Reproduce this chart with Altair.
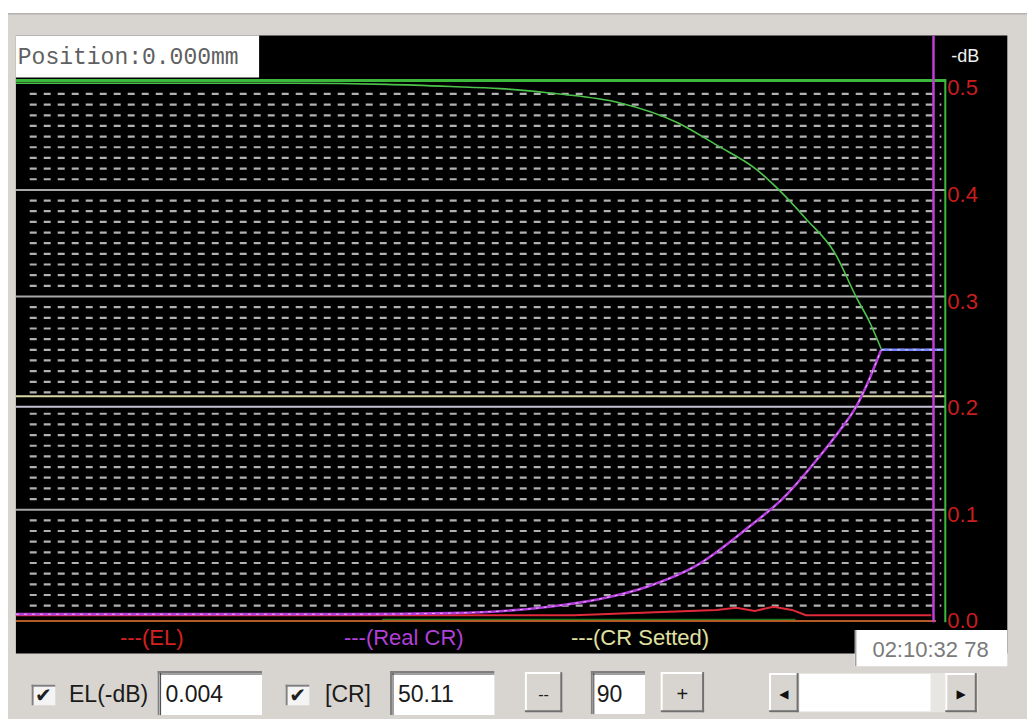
import altair as alt
import pandas as pd

# ---------------- data ----------------
# x: position along the scan (0..100 = left edge .. right limit), y: -dB
cr_set_x = [0, 10, 20, 30, 39.9, 46.8, 52.1, 58.5, 64.8, 71.2, 75.4, 79.7, 82.1, 85.0, 88.1, 90.5, 91.8, 93.1]
cr_set_v = [0.5, 0.5, 0.5, 0.5, 0.499, 0.497, 0.495, 0.490, 0.482, 0.463, 0.442, 0.419, 0.400, 0.373, 0.341, 0.298, 0.277, 0.251]

real_cr_x = [0, 10, 20, 30, 36.2, 46.8, 57.4, 62.7, 68.0, 73.3, 78.6, 82.8, 86.0, 88.7, 90.3, 91.8, 93.1]
real_cr_v = [0.002, 0.002, 0.002, 0.002, 0.002, 0.003, 0.009, 0.016, 0.028, 0.048, 0.082, 0.113, 0.145, 0.175, 0.195, 0.222, 0.250]

flat_x = [93.1, 99.8]
flat_v = [0.250, 0.250]

el_x = [0, 20, 40, 60, 75.4, 77.5, 79.5, 81.5, 83.5, 85.0, 98.5]
el_v = [0.001, 0.001, 0.001, 0.001, 0.006, 0.008, 0.005, 0.009, 0.006, 0.001, 0.001]

base_x = [0, 99.0]
base_v = [-0.0045, -0.0045]

axis_ticks = [0.5, 0.4, 0.3, 0.2, 0.1, 0.0]
axis_labels = ["0.5", "0.4", "0.3", "0.2", "0.1", "0.0"]
solid_grid = [0.4, 0.3, 0.1]
minor_grid = [i / 100 for i in range(1, 50) if i % 10]

position_text = "Position:0.000mm"
time_text = "02:10:32 78"
legend_items = ["---(EL)", "---(Real CR)", "---(CR Setted)"]
el_value = "0.004"
cr_value = "50.11"
step_value = "90"

# ---------------- layout helpers ----------------
W, H = 1019, 711
sx, sy = W / 1035, H / 727


def X(r):
    return round(r * sx, 1)


def Y(r):
    return round(r * sy, 1)


one = pd.DataFrame({"k": [0]})
xs = alt.Scale(domain=[0, 100], range=[X(8), X(952)])
ys = alt.Scale(domain=[0, 0.5], range=[Y(622), Y(77)])


def rect(x1, y1, x2, y2, fill):
    return alt.Chart(one).mark_rect(fill=fill).encode(
        x=alt.value(X(x1)), x2=alt.value(X(x2)), y=alt.value(Y(y1)), y2=alt.value(Y(y2)))


def hl(x1, x2, y, color, w=1):
    return alt.Chart(one).mark_rule(color=color, strokeWidth=w).encode(
        x=alt.value(X(x1)), x2=alt.value(X(x2)), y=alt.value(Y(y)))


def vl(x, y1, y2, color, w=1):
    return alt.Chart(one).mark_rule(color=color, strokeWidth=w).encode(
        x=alt.value(X(x)), y=alt.value(Y(y1)), y2=alt.value(Y(y2)))


def txt(x, y, s, size, color, font="Liberation Sans", align="left", weight="normal"):
    return alt.Chart(one).mark_text(text=s, fontSize=size, color=color, font=font,
                                    align=align, baseline="middle", fontWeight=weight).encode(
        x=alt.value(X(x)), y=alt.value(Y(y)))


def sunken(x1, y1, x2, y2):
    return [rect(x1, y1, x2, y2, "#ffffff"),
            hl(x1, x2, y1 + 1, "#808080", 2), vl(x1 + 1, y1, y2, "#808080", 2),
            hl(x1 + 2, x2, y1 + 3, "#404040", 1), vl(x1 + 3, y1 + 2, y2, "#404040", 1)]


def raised(x1, y1, x2, y2):
    return [rect(x1, y1, x2, y2, "#d8d5d0"),
            hl(x1, x2, y1 + 1, "#ffffff", 2), vl(x1 + 1, y1, y2, "#ffffff", 2),
            hl(x1, x2, y2 - 1, "#707070", 2), vl(x2 - 1, y1, y2, "#707070", 2)]


def checkbox(x1, y1, x2, y2):
    return [rect(x1, y1, x2, y2, "#f4f4f4"),
            hl(x1, x2, y1 + 1, "#808080", 2), vl(x1 + 1, y1, y2, "#808080", 2),
            txt((x1 + x2) / 2, (y1 + y2) / 2 + 1, "\u2714", 20, "#202020", font="DejaVu Sans", align="center")]


layers = []
# window frame
layers.append(rect(0, 0, 1035, 5, "#ffffff"))
layers.append(hl(0, 1035, 6, "#a0a0a0", 1))
# black plotting panel
layers.append(rect(8, 28, 1015, 660, "#000000"))

# minor dashed grid
layers.append(alt.Chart(pd.DataFrame({"v": minor_grid})).mark_rule(
    color="#c4c4c4", strokeWidth=2.2, strokeDash=[7, 7], opacity=0.9).encode(
    y=alt.Y("v:Q", scale=ys, axis=None), x=alt.value(X(22)), x2=alt.value(X(948))))
# solid grid lines
layers.append(alt.Chart(pd.DataFrame({"v": solid_grid})).mark_rule(
    color="#a8a8a8", strokeWidth=2).encode(
    y=alt.Y("v:Q", scale=ys, axis=None), x=alt.value(X(8)), x2=alt.value(X(952))))
layers.append(alt.Chart(pd.DataFrame({"v": [0.2065]})).mark_rule(
    color="#d8d6a8", strokeWidth=2).encode(
    y=alt.Y("v:Q", scale=ys, axis=None), x=alt.value(X(8)), x2=alt.value(X(952))))
layers.append(alt.Chart(pd.DataFrame({"v": [0.1965]})).mark_rule(
    color="#c4c0d4", strokeWidth=2).encode(
    y=alt.Y("v:Q", scale=ys, axis=None), x=alt.value(X(8)), x2=alt.value(X(952))))

# bottom lines
layers.append(hl(380, 800, 626, "#1e7a1e", 3))
layers.append(alt.Chart(pd.DataFrame({"x": base_x, "v": base_v})).mark_line(
    color="#b45a24", strokeWidth=2).encode(
    x=alt.X("x:Q", scale=xs, axis=None), y=alt.Y("v:Q", scale=ys, axis=None)))
layers.append(alt.Chart(pd.DataFrame({"x": el_x, "v": el_v})).mark_line(
    color="#e02a3a", strokeWidth=2).encode(
    x=alt.X("x:Q", scale=xs, axis=None), y=alt.Y("v:Q", scale=ys, axis=None)))

# top green frame line and right limit
layers.append(hl(8, 953, 74, "#3cb83c", 3))
layers.append(vl(952, 74, 628, "#3cb83c", 2))

# curves
layers.append(alt.Chart(pd.DataFrame({"x": cr_set_x, "v": cr_set_v})).mark_line(
    color="#4cc44c", strokeWidth=1.6, interpolate="monotone").encode(
    x=alt.X("x:Q", scale=xs, axis=None), y=alt.Y("v:Q", scale=ys, axis=None)))
real_df = pd.DataFrame({"x": real_cr_x, "v": real_cr_v})
layers.append(alt.Chart(real_df).mark_line(
    color="#b43cdc", strokeWidth=2.6, interpolate="monotone").encode(
    x=alt.X("x:Q", scale=xs, axis=None), y=alt.Y("v:Q", scale=ys, axis=None)))
layers.append(alt.Chart(real_df).mark_line(
    color="#f0d8ff", strokeWidth=1, strokeDash=[3, 5], opacity=0.8, interpolate="monotone").encode(
    x=alt.X("x:Q", scale=xs, axis=None), y=alt.Y("v:Q", scale=ys, axis=None)))
flat_df = pd.DataFrame({"x": flat_x, "v": flat_v})
layers.append(alt.Chart(flat_df).mark_line(color="#7a86ff", strokeWidth=2.6).encode(
    x=alt.X("x:Q", scale=xs, axis=None), y=alt.Y("v:Q", scale=ys, axis=None)))
layers.append(alt.Chart(flat_df).mark_line(color="#e8e8ff", strokeWidth=1, strokeDash=[3, 5], opacity=0.8).encode(
    x=alt.X("x:Q", scale=xs, axis=None), y=alt.Y("v:Q", scale=ys, axis=None)))

# magenta cursor
layers.append(vl(940, 28, 628, "#c23cd8", 2.5))

# right axis labels
layers.append(alt.Chart(pd.DataFrame({"v": axis_ticks, "t": axis_labels})).mark_text(
    color="#c81e1e", fontSize=22, font="Liberation Sans Narrow, Liberation Sans", align="left",
    baseline="middle", dy=5).encode(
    y=alt.Y("v:Q", scale=ys, axis=None), x=alt.value(X(954)), text="t:N"))
layers.append(txt(958, 50, "-dB", 18, "#f0f0f0", font="Liberation Sans Narrow, Liberation Sans"))

# position box
layers.append(rect(8, 28, 255, 71, "#ffffff"))
layers.append(txt(10, 50, position_text, 23, "#606060", font="Liberation Mono"))

# legend texts
legend_colors = ["#d42020", "#b040d8", "#e0e0a0"]
legend_x = [146, 402, 642]
for s, c, lx in zip(legend_items, legend_colors, legend_x):
    layers.append(txt(lx, 644, s, 22, c, font="Liberation Sans Narrow, Liberation Sans", align="center"))

# time box
layers.append(rect(860, 636, 1015, 673, "#ffffff"))
layers.append(vl(861, 636, 673, "#a0a0a0", 1.5))
layers.append(txt(937, 656, time_text, 22, "#7a7a7a", font="Liberation Sans Narrow, Liberation Sans", align="center"))

# control row
layers += checkbox(24, 692, 48, 713)
layers.append(txt(62, 702, "EL(-dB)", 23, "#1a1a1a"))
layers += sunken(152, 678, 258, 723)
layers.append(txt(160, 702, el_value, 23, "#1a1a1a"))
layers += checkbox(282, 692, 306, 713)
layers.append(txt(322, 702, "[CR]", 23, "#1a1a1a"))
layers += sunken(388, 678, 494, 723)
layers.append(txt(396, 702, cr_value, 23, "#1a1a1a"))
layers += raised(525, 679, 563, 720)
layers.append(txt(544, 702, "--", 16, "#1a1a1a", align="center"))
layers += sunken(592, 678, 647, 722)
layers.append(txt(598, 702, step_value, 23, "#1a1a1a"))
layers += raised(663, 679, 707, 720)
layers.append(txt(685, 702, "+", 20, "#1a1a1a", align="center"))
# scrollbar
layers.append(rect(773, 680, 985, 720, "#e8e6e2"))
layers += raised(773, 680, 803, 720)
layers.append(txt(788, 701, "\u25c0", 12, "#101010", font="DejaVu Sans", align="center"))
layers.append(rect(804, 681, 937, 719, "#ffffff"))
layers += raised(952, 680, 984, 720)
layers.append(txt(968, 701, "\u25b6", 12, "#101010", font="DejaVu Sans", align="center"))

chart = alt.layer(*layers).properties(
    width=W, height=H, autosize=alt.AutoSizeParams(type="none"), padding=0,
    background="#d8d5d0"
).configure_view(stroke=None)

chart.save("out.html", embed_options={"renderer": "svg", "actions": False})
